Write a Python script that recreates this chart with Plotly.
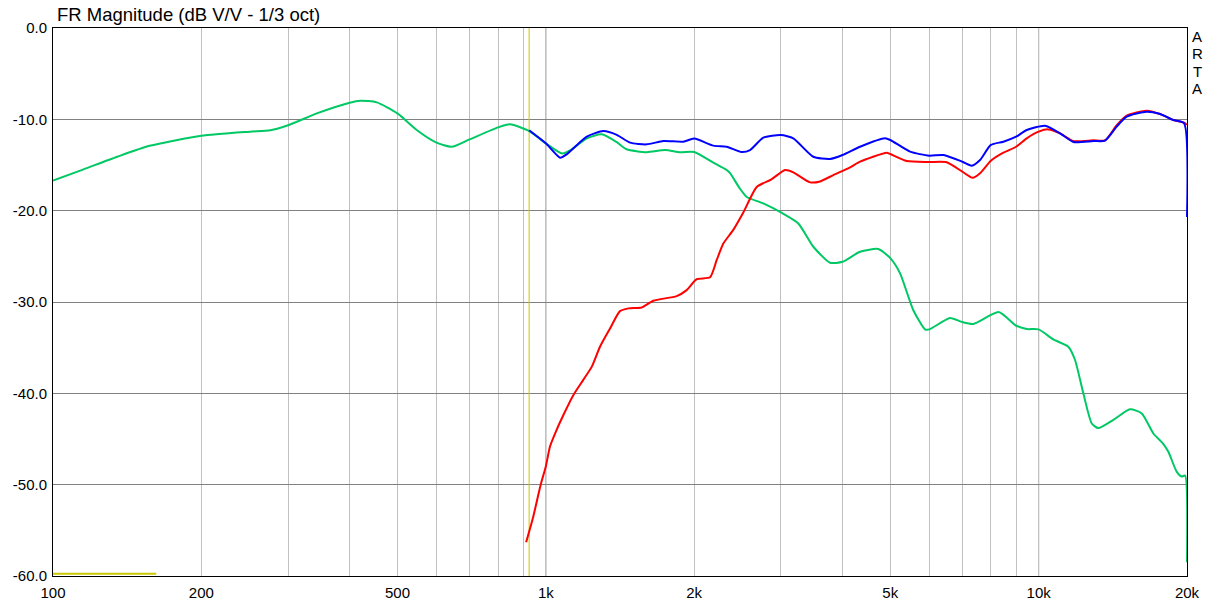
import math
import plotly.graph_objects as go

# ---------------- data ----------------
green_f = [100, 115, 135, 157, 200, 251, 276, 300, 343, 400, 420, 454, 500, 547, 600, 644, 700, 800, 846,
           925, 1000, 1080, 1120, 1211, 1298, 1393, 1459, 1602, 1746, 1872, 2000, 2187, 2328, 2365, 2474,
           2557, 2763, 3000, 3253, 3490, 3773, 4000, 4341, 4727, 5000, 5234, 5568, 5883, 6000, 6610, 7000,
           7371, 8296, 9000, 9458, 10000, 10711, 11487, 11853, 12322, 12817, 13215, 14179, 15328, 16190,
           17093, 17911, 18334, 19069, 19519, 19821, 20000]
green_db = [-16.7, -15.5, -14.1, -12.9, -11.8, -11.35, -11.2, -10.65, -9.35, -8.18, -7.96, -8.14, -9.35, -11.17,
            -12.55, -13.0, -12.2, -10.88, -10.55, -11.28, -12.63, -13.75, -13.4, -12.08, -11.64, -12.5, -13.28,
            -13.6, -13.36, -13.6, -13.58, -14.75, -15.55, -15.9, -17.55, -18.5, -19.2, -20.2, -21.4, -23.95,
            -25.7, -25.6, -24.5, -24.2, -25.2, -26.86, -30.9, -33.0, -33.0, -31.75, -32.2, -32.4, -31.1, -32.6,
            -32.96, -33.0, -34.1, -34.9, -36.35, -40.0, -43.3, -43.8, -42.9, -41.75, -42.2, -44.4, -45.55,
            -46.4, -48.6, -49.1, -49.0, -58.5]

red_f = [912, 943, 976, 1000, 1020, 1044, 1085, 1137, 1192, 1239, 1288, 1350, 1414, 1471, 1565, 1652, 1843,
         1931, 2024, 2154, 2222, 2292, 2401, 2516, 2679, 2864, 3058, 3178, 3437, 3601, 3832, 4143, 4341, 4917,
         5000, 5400, 6000, 6508, 7000, 7348, 7605, 8000, 8481, 9000, 9458, 10000, 10465, 11049, 11759, 12912,
         13635, 14402, 15089, 16572, 17636, 18763, 19724, 20000]
red_db = [-56.3, -53.5, -50.04, -48.0, -45.8, -44.4, -42.4, -40.2, -38.5, -37.1, -34.9, -32.9, -31.0, -30.7,
          -30.6, -29.86, -29.35, -28.7, -27.5, -27.3, -25.4, -23.6, -22.1, -20.2, -17.4, -16.6, -15.55, -15.8,
          -16.9, -16.8, -16.1, -15.26, -14.64, -13.65, -13.8, -14.56, -14.67, -14.7, -15.73, -16.4, -15.9,
          -14.53, -13.65, -13.0, -12.08, -11.35, -11.1, -11.53, -12.37, -12.3, -12.3, -10.65, -9.6, -9.05,
          -9.42, -10.07, -10.37, -10.6]

blue_f = [925, 1000, 1069, 1102, 1211, 1308, 1393, 1482, 1602, 1732, 1901, 2000, 2187, 2328, 2497, 2597, 2763,
          3000, 3178, 3490, 3773, 4000, 4341, 4877, 5000, 5484, 6000, 6407, 7000, 7315, 7605, 8000, 8481, 9000,
          9458, 10300, 11049, 11759, 12912, 13635, 14402, 15089, 16572, 17636, 18763, 19724, 20000]
blue_db = [-11.2, -12.63, -14.2, -13.83, -11.9, -11.28, -11.7, -12.55, -12.74, -12.37, -12.45, -12.1, -12.88,
           -13.0, -13.58, -13.36, -12.0, -11.72, -12.08, -14.1, -14.34, -13.9, -13.0, -12.08, -12.26, -13.54,
           -13.98, -13.9, -14.64, -15.07, -14.45, -12.8, -12.45, -11.9, -11.17, -10.7, -11.53, -12.48, -12.37,
           -12.34, -10.8, -9.71, -9.16, -9.42, -10.07, -10.43, -20.7]

marker_f = 925            # vertical cursor (Hz)
low_line_f = [100, 162]   # yellow line at bottom
low_line_db = [-59.75, -59.75]

x_tick_vals = [100, 200, 300, 400, 500, 600, 700, 800, 900, 1000, 2000, 3000, 4000, 5000, 6000, 7000, 8000,
               9000, 10000, 20000]
x_tick_text = ["100", "200", "", "", "500", "", "", "", "", "1k", "2k", "", "", "5k", "", "", "", "", "10k", "20k"]
y_tick_vals = [0, -10, -20, -30, -40, -50, -60]
y_tick_text = ["0.0", "-10.0", "-20.0", "-30.0", "-40.0", "-50.0", "-60.0"]

# ---------------- figure ----------------
GREEN = "rgb(0,200,100)"
RED = "rgb(255,0,0)"
BLUE = "rgb(0,0,255)"
YELLOW = "rgb(200,200,0)"

# body margin removed (post_script), so figure pixels == page pixels
W, H = 1211, 607
L, R, T, B = 53, 24, 28, 31
PW, PH = W - L - R, H - T - B

fig = go.Figure()
fig.add_trace(go.Scatter(x=low_line_f, y=low_line_db, mode="lines", line=dict(color=YELLOW, width=2)))
fig.add_trace(go.Scatter(x=[marker_f, marker_f], y=[-60, 0], mode="lines", line=dict(color=YELLOW, width=1)))
fig.add_trace(go.Scatter(x=green_f, y=green_db, mode="lines",
                         line=dict(color=GREEN, width=2, shape="spline", smoothing=0.6)))
fig.add_trace(go.Scatter(x=red_f, y=red_db, mode="lines",
                         line=dict(color=RED, width=2, shape="spline", smoothing=0.6)))
fig.add_trace(go.Scatter(x=blue_f, y=blue_db, mode="lines",
                         line=dict(color=BLUE, width=2, shape="spline", smoothing=0.6)))

# darker decade lines
for f in [1000, 10000]:
    fig.add_shape(type="line", xref="x", yref="paper", x0=f, x1=f, y0=0, y1=1,
                  line=dict(color="rgb(128,128,128)", width=1), layer="below")

FONT = "Liberation Sans, Arial, sans-serif"
fig.update_layout(
    width=W, height=H,
    margin=dict(l=L, r=R, t=T, b=B, autoexpand=False),
    paper_bgcolor="white", plot_bgcolor="white",
    showlegend=False,
    font=dict(family=FONT, size=15, color="black"),
    xaxis=dict(type="log", range=[2, math.log10(20000)], tickvals=x_tick_vals, ticktext=x_tick_text,
               showgrid=True, gridcolor="rgb(192,192,192)", gridwidth=1, zeroline=False,
               showline=True, linecolor="black", linewidth=1, mirror=True, ticks="",
               ticklabelstandoff=3, automargin=False,
               tickfont=dict(family=FONT, size=15), fixedrange=True),
    yaxis=dict(range=[-60, 0], tickvals=y_tick_vals, ticktext=y_tick_text,
               showgrid=True, gridcolor="rgb(128,128,128)", gridwidth=1, zeroline=False,
               showline=True, linecolor="black", linewidth=1, mirror=True, ticks="",
               automargin=False,
               tickfont=dict(family=FONT, size=15), ticklabelstandoff=2, fixedrange=True),
)

# title as annotation (page x 55, centre y 14)
fig.add_annotation(x=(55 - L) / PW, xref="paper", y=(H - B - 14.5) / PH, yref="paper",
                   text="FR Magnitude (dB V/V - 1/3 oct)", showarrow=False,
                   font=dict(family=FONT, size=18.5, color="black"), xanchor="left", yanchor="middle")

for i, ch in enumerate("ARTA"):
    ypx = 36.5 + 17.3 * i
    fig.add_annotation(x=(1197 - L) / PW, xref="paper", y=(H - B - ypx) / PH, yref="paper",
                       text=ch, showarrow=False, font=dict(family=FONT, size=15),
                       xanchor="center", yanchor="middle")

fig.write_html("out.html", config={"displayModeBar": False},
               post_script="document.body.style.margin='0';document.body.style.overflow='hidden';")
